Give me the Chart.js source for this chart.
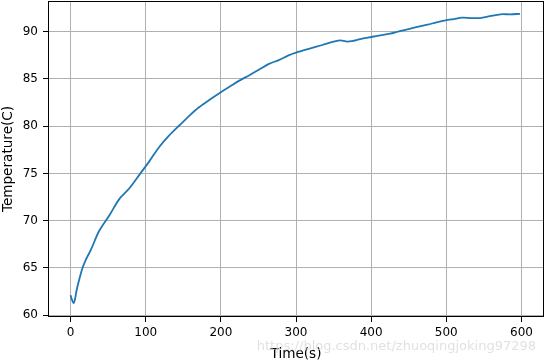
<!DOCTYPE html>
<html>
<head>
<meta charset="utf-8">
<script src="https://cdn.jsdelivr.net/npm/chart.js@4.4.0/dist/chart.umd.min.js"></script>
<style>
  html, body { margin: 0; padding: 0; background: #fff; }
  #wrap { width: 546px; height: 362px; position: relative; }
</style>
</head>
<body>
<div id="wrap"><canvas id="tempChart" width="546" height="362"></canvas></div>
<script>
/* ===== DATA ===== */
const times = [0, 2, 4, 6, 8, 12, 16, 20, 27, 38, 52, 65, 78, 92, 105, 118, 131, 145, 158, 171,
  185, 200, 212, 224, 238, 251, 264, 277, 290, 300, 317, 335, 350, 359, 368, 377, 387, 397, 410,
  425, 437, 448, 460, 475, 487, 499, 510, 521, 533, 545, 558, 572, 585, 598];
const temps = [62.1, 61.6, 61.25, 61.7, 62.6, 63.9, 65.0, 65.8, 66.9, 68.9, 70.6, 72.3, 73.4, 74.9, 76.3, 77.8, 79.0, 80.1, 81.1, 82.0,
  82.8, 83.6, 84.2, 84.8, 85.4, 86.0, 86.6, 87.0, 87.5, 87.8, 88.2, 88.6, 88.95, 89.1, 88.95, 89.05, 89.25, 89.4, 89.6,
  89.8, 90.05, 90.25, 90.5, 90.75, 91.0, 91.2, 91.35, 91.5, 91.45, 91.45, 91.65, 91.85, 91.85, 91.9];
const xTicks = [0, 100, 200, 300, 400, 500, 600];
const yTicks = [60, 65, 70, 75, 80, 85, 90];
const xLabel = "Time(s)";
const yLabel = "Temperature(C)";
const watermark = "https://blog.csdn.net/zhuoqingjoking97298";

const FONT = { family: "'DejaVu Sans', sans-serif", size: 12 };
const TITLE_FONT = { family: "'DejaVu Sans', sans-serif", size: 13.6, lineHeight: 1 };

/* ===== PLUGINS ===== */
// matplotlib style box round the axes
const frame = {
  id: "frame",
  afterDraw(chart) {
    const { ctx, chartArea: a } = chart;
    ctx.save();
    ctx.strokeStyle = "#000";
    ctx.lineWidth = 1;
    ctx.strokeRect(a.left + 0.5, a.top + 0.5, a.right - a.left - 1, a.bottom - a.top - 1);
    ctx.font = "13px 'DejaVu Sans', sans-serif";
    ctx.fillStyle = "rgba(215,215,215,0.75)";
    ctx.textAlign = "right";
    ctx.textBaseline = "alphabetic";
    ctx.fillText(watermark, 536, 350);
    ctx.restore();
  }
};

/* ===== CHART ===== */
new Chart(document.getElementById("tempChart"), {
  type: "line",
  data: {
    datasets: [{
      data: times.map((t, i) => ({ x: t, y: temps[i] })),
      borderColor: "#1f77b4",
      borderWidth: 1.8,
      pointRadius: 0,
      tension: 0.3,
      fill: false
    }]
  },
  options: {
    responsive: false,
    animation: false,
    layout: { padding: { top: 1, right: 2, left: 0, bottom: 0 } },
    plugins: { legend: { display: false }, tooltip: { enabled: false } },
    scales: {
      x: {
        type: "linear",
        min: -30,
        max: 630,
        afterBuildTicks: s => { s.ticks = xTicks.map(v => ({ value: v })); },
        afterFit: s => { s.height = 45; s.paddingLeft = 0; s.paddingRight = 0; },
        grid: { color: "#b0b0b0", lineWidth: 1, tickColor: "#000", tickLength: 5 },
        border: { display: false },
        ticks: { color: "#000", font: FONT, padding: 4, maxRotation: 0 },
        title: { display: true, text: xLabel, color: "#000", font: TITLE_FONT, padding: { top: 0, bottom: 0.5 } }
      },
      y: {
        min: 59.79,
        max: 93.26,
        afterBuildTicks: s => { s.ticks = yTicks.map(v => ({ value: v })); },
        afterFit: s => { s.width = 48; s.paddingTop = 0; s.paddingBottom = 0; },
        grid: { color: "#b0b0b0", lineWidth: 1, tickColor: "#000", tickLength: 5 },
        border: { display: false },
        ticks: { color: "#000", font: FONT, padding: 5 },
        title: { display: true, text: yLabel, color: "#000", font: TITLE_FONT, padding: { top: 1.5, bottom: 0 } }
      }
    }
  },
  plugins: [frame]
});
</script>
</body>
</html>
